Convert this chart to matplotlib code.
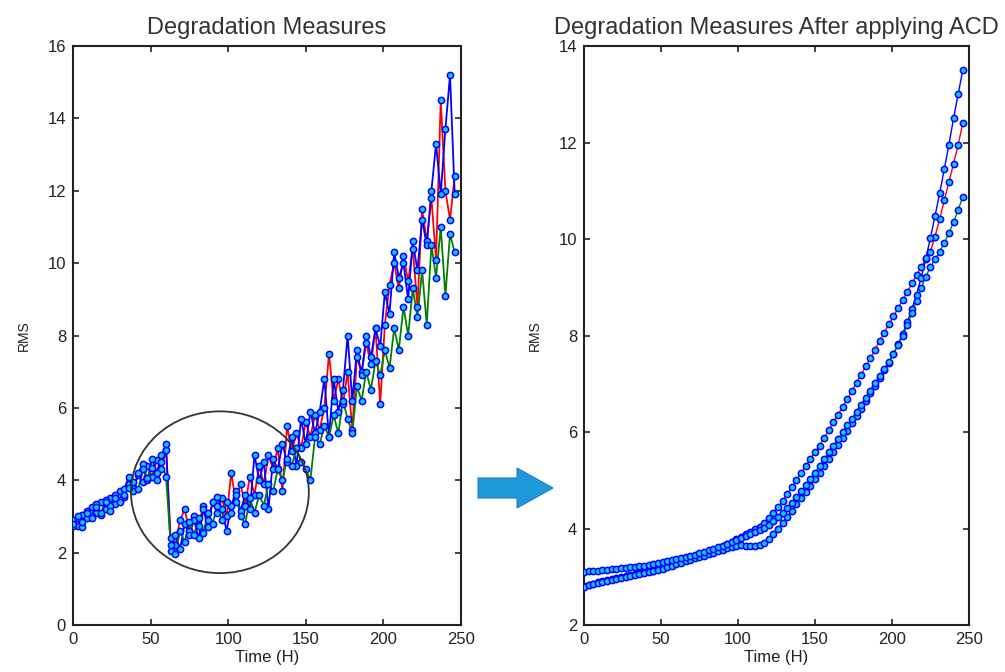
import numpy as np
import matplotlib
matplotlib.use("Agg")
import matplotlib.pyplot as plt
from matplotlib.patches import Ellipse, Polygon

plt.rcParams['font.family'] = ['Liberation Sans', 'DejaVu Sans']

# time axis (hours), one sample every 3 h
hours = list(range(0, 247, 3))

# raw degradation measures (left panel)
raw_red = [2.9, 2.75, 3.05, 2.95, 3.25, 3.1, 3.4, 3.2, 3.5, 3.35, 3.7, 3.55, 3.9, 3.8,
           4.15, 3.95, 4.4, 4.1, 4.55, 4.3, 4.85, 2.4, 2.2, 2.9, 3.2, 2.6, 3.0, 2.75,
           3.3, 2.9, 3.4, 3.1, 3.5, 3.0, 4.2, 3.4, 3.9, 3.3, 4.1, 3.6, 4.4, 3.9, 4.7,
           4.3, 4.9, 3.7, 5.5, 4.8, 5.3, 4.9, 5.6, 5.2, 5.8, 5.4, 6.0, 7.5, 6.2, 6.8,
           6.1, 7.0, 5.4, 7.4, 7.0, 7.8, 7.2, 8.2, 6.1, 8.3, 9.4, 10.0, 9.3, 10.2, 9.5,
           10.4, 8.8, 11.5, 10.6, 11.8, 10.1, 14.5, 12.0, 11.2, 12.4]
raw_blue = [2.75, 2.95, 2.7, 3.15, 3.0, 3.35, 3.05, 3.45, 3.3, 3.6, 3.45, 3.75, 4.1, 3.7,
            4.2, 4.45, 4.0, 4.6, 4.2, 4.7, 5.0, 2.05, 2.5, 2.1, 2.8, 2.5, 2.9, 2.4, 3.2,
            2.7, 3.4, 3.55, 3.2, 2.6, 3.3, 3.7, 3.15, 3.6, 3.2, 4.7, 4.0, 4.5, 3.2, 4.6,
            4.3, 5.0, 4.5, 5.2, 4.4, 5.7, 5.0, 5.9, 5.3, 5.9, 6.8, 5.2, 6.8, 5.9, 6.5,
            8.0, 6.2, 7.6, 6.9, 8.0, 7.4, 8.2, 7.7, 9.2, 8.6, 10.3, 9.6, 10.0, 9.0, 10.6,
            9.8, 11.2, 10.5, 12.0, 13.3, 11.9, 13.7, 15.2, 11.9]
raw_green = [2.8, 3.0, 2.85, 3.1, 2.95, 3.25, 3.1, 3.4, 3.15, 3.5, 3.4, 3.6, 3.8, 3.95,
             3.75, 4.3, 4.05, 4.35, 4.0, 4.5, 4.1, 2.2, 1.95, 2.6, 2.3, 2.85, 2.5, 2.95,
             2.55, 3.1, 2.8, 3.3, 2.9, 3.4, 3.1, 3.6, 3.0, 2.8, 3.5, 3.1, 3.6, 3.3, 3.9,
             3.7, 4.3, 4.0, 4.6, 4.4, 4.9, 4.5, 4.3, 4.0, 5.2, 5.0, 5.5, 5.2, 5.8, 5.3,
             6.2, 5.7, 5.3, 6.6, 6.2, 7.0, 6.5, 7.3, 6.9, 7.6, 7.1, 8.2, 7.6, 8.8, 8.0,
             9.3, 8.5, 9.8, 8.3, 10.5, 9.6, 11.0, 9.1, 10.8, 10.3]

# after ACD (right panel)
acd_red = [2.80, 2.83, 2.86, 2.89, 2.91, 2.93, 2.95, 2.97, 2.99, 3.01, 3.03, 3.05, 3.07,
           3.09, 3.11, 3.13, 3.16, 3.19, 3.22, 3.25, 3.28, 3.31, 3.34, 3.37, 3.40, 3.43,
           3.47, 3.51, 3.55, 3.59, 3.63, 3.68, 3.73, 3.78, 3.83, 3.88, 3.93, 3.98, 4.04,
           4.12, 4.22, 4.33, 4.45, 4.58, 4.72, 4.86, 5.00, 5.15, 5.30, 5.45, 5.58, 5.72,
           5.88, 6.04, 6.20, 6.36, 6.52, 6.68, 6.85, 7.02, 7.19, 7.36, 7.53, 7.71, 7.89,
           8.06, 8.23, 8.40, 8.57, 8.74, 8.91, 9.08, 9.25, 9.42, 9.58, 9.74, 10.05, 10.42,
           10.80, 11.18, 11.56, 11.95, 12.40]
acd_blue = [2.78, 2.82, 2.85, 2.88, 2.90, 2.92, 2.94, 2.96, 2.98, 3.00, 3.02, 3.04, 3.06,
            3.08, 3.10, 3.12, 3.14, 3.17, 3.20, 3.23, 3.26, 3.29, 3.32, 3.35, 3.38, 3.41,
            3.44, 3.47, 3.50, 3.53, 3.56, 3.59, 3.62, 3.64, 3.65, 3.64, 3.63, 3.63, 3.65,
            3.70, 3.78, 3.88, 4.00, 4.12, 4.24, 4.37, 4.50, 4.63, 4.76, 4.89, 5.02, 5.16,
            5.30, 5.44, 5.58, 5.73, 5.88, 6.03, 6.18, 6.33, 6.48, 6.64, 6.80, 6.96, 7.12,
            7.28, 7.44, 7.62, 7.82, 8.04, 8.28, 8.55, 8.85, 9.20, 9.60, 10.02, 10.48, 10.95,
            11.45, 11.95, 12.50, 13.00, 13.50]
acd_green = [3.10, 3.11, 3.12, 3.13, 3.14, 3.15, 3.16, 3.17, 3.18, 3.19, 3.20, 3.21, 3.22,
             3.23, 3.24, 3.26, 3.28, 3.30, 3.32, 3.34, 3.36, 3.38, 3.40, 3.43, 3.46, 3.49,
             3.52, 3.55, 3.58, 3.61, 3.64, 3.68, 3.72, 3.76, 3.80, 3.84, 3.88, 3.92, 3.97,
             4.02, 4.08, 4.15, 4.23, 4.32, 4.42, 4.53, 4.65, 4.77, 4.90, 5.03, 5.16, 5.30,
             5.44, 5.58, 5.72, 5.86, 6.00, 6.14, 6.28, 6.42, 6.56, 6.71, 6.86, 7.01, 7.16,
             7.31, 7.46, 7.62, 7.80, 8.00, 8.22, 8.46, 8.72, 8.98, 9.22, 9.42, 9.58, 9.74,
             9.92, 10.12, 10.35, 10.60, 10.88]

line_colors = ['red', 'blue', 'green']
mk = dict(marker='o', linestyle='none', markersize=4.5, markerfacecolor='#10c8ff',
          markeredgecolor='#0000ff', markeredgewidth=1.1)

fig = plt.figure(figsize=(10.05, 6.72), dpi=100)
ax1 = fig.add_axes([0.0726, 0.0699, 0.386, 0.8616])
ax2 = fig.add_axes([0.5811, 0.0699, 0.383, 0.8616])

def draw(ax, series, lw):
    for s, c in zip(series, line_colors):
        ax.plot(hours, s, color=c, lw=lw, zorder=2)
    for s in series:
        ax.plot(hours, s, zorder=3, **mk)

draw(ax1, [raw_red, raw_blue, raw_green], 1.3)
draw(ax2, [acd_red, acd_blue, acd_green], 1.0)

ax1.set_xlim(0, 250)
ax1.set_ylim(0, 16)
ax1.set_yticks(np.arange(0, 17, 2))
ax2.set_xlim(0, 250)
ax2.set_ylim(2, 14)
ax2.set_yticks(np.arange(2, 15, 2))

for ax, t in [(ax1, 'Degradation Measures'), (ax2, 'Degradation Measures After applying ACD')]:
    ax.set_xticks(np.arange(0, 251, 50))
    ax.tick_params(direction='in', top=True, right=True, length=4, width=1.2,
                   labelsize=12, colors='#222222', pad=5)
    for sp in ax.spines.values():
        sp.set_linewidth(1.5)
        sp.set_color('#222222')
    ax.set_title(t, fontsize=17, color='#333333', pad=9)
    ax.set_xlabel('Time (H)', fontsize=12, color='#222222', labelpad=2)
    ax.set_ylabel('RMS', fontsize=10, color='#222222', labelpad=12)

# circle around the drop region
ax1.add_patch(Ellipse((94.7, 3.67), 114.6, 4.47, fill=False, edgecolor='#333333', lw=1.3, zorder=4))

# block arrow between the panels
W, H = 1005.0, 672.0
pts = [(478, 478), (517, 478), (517, 468), (553, 488), (517, 508), (517, 498), (478, 498)]
fig.add_artist(Polygon([(x / W, 1 - y / H) for x, y in pts], closed=True,
                       facecolor='#1e9ad8', edgecolor='#1a7fc0', lw=0.8,
                       transform=fig.transFigure))

fig.savefig('out.png', dpi=100)
